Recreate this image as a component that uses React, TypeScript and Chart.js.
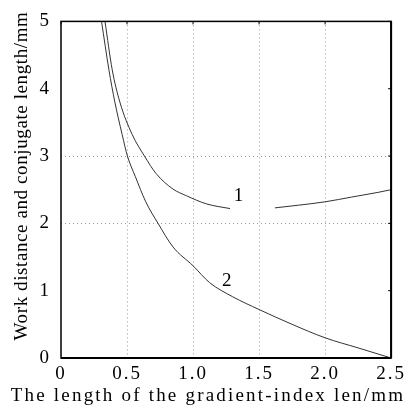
import React, { useEffect, useRef } from "react";
import { Chart, registerables } from "chart.js";

Chart.register(...registerables);

const curve1LeftX = [0.333, 0.388, 0.446, 0.539, 0.632, 0.72, 0.848, 0.95, 1.1, 1.19, 1.28];
const curve1LeftY = [5.0, 4.28, 3.8, 3.32, 3.0, 2.74, 2.51, 2.41, 2.29, 2.25, 2.22];
const curve1RightX = [1.62, 1.8, 2.0, 2.2, 2.4, 2.5];
const curve1RightY = [2.23, 2.27, 2.32, 2.39, 2.46, 2.5];
const curve2X = [0.307, 0.363, 0.408, 0.463, 0.503, 0.562, 0.642, 0.735, 0.848, 1.0, 1.125, 1.3, 1.5, 1.75, 2.0, 2.25, 2.5];
const curve2Y = [5.0, 4.28, 3.8, 3.32, 3.0, 2.7, 2.32, 2.0, 1.65, 1.37, 1.12, 0.91, 0.72, 0.5, 0.3, 0.15, 0.0];

const curveLabels = ["1", "2"];
const curveLabelX = [1.345, 1.255];
const curveLabelY = [2.4, 1.15];

const xTickLabels = ["0", "0.5", "1.0", "1.5", "2.0", "2.5"];
const yGridValues = [2, 3];

const xTitle = "The length of the gradient-index len/mm";
const yTitle = "Work distance and conjugate length/mm";

const FONT = "'Liberation Serif', 'Times New Roman', serif";

const pts = (xs: number[], ys: number[]) => xs.map((x, i) => ({ x, y: ys[i] }));

const spacingPlugin = {
  id: "spacing",
  beforeLayout(chart: any) {
    chart.ctx.letterSpacing = "2px";
  },
  beforeDraw(chart: any) {
    chart.ctx.letterSpacing = "2px";
  },
};

const framePlugin = {
  id: "frame",
  afterDatasetsDraw(chart: any) {
    const { ctx, chartArea, scales } = chart;
    const { left, right, top, bottom } = chartArea;
    const xs = scales.x;
    const ys = scales.y;
    ctx.save();
    ctx.strokeStyle = "#000";
    ctx.lineWidth = 1.5;
    ctx.strokeRect(left, top, right - left, bottom - top);
    ctx.lineWidth = 2;
    ctx.beginPath();
    ctx.moveTo(right, top);
    ctx.lineTo(right, bottom);
    ctx.moveTo(left, bottom);
    ctx.lineTo(right, bottom);
    ctx.stroke();
    ctx.lineWidth = 1;
    xs.ticks.forEach((t: any) => {
      const px = xs.getPixelForValue(t.value);
      ctx.beginPath();
      ctx.moveTo(px, top);
      ctx.lineTo(px, top + 3);
      ctx.stroke();
    });
    ys.ticks.forEach((t: any) => {
      const py = ys.getPixelForValue(t.value);
      ctx.beginPath();
      ctx.moveTo(right, py);
      ctx.lineTo(right - 3, py);
      ctx.stroke();
    });
    ctx.fillStyle = "#000";
    ctx.font = `19px ${FONT}`;
    ctx.textAlign = "center";
    ctx.textBaseline = "middle";
    ctx.letterSpacing = "0px";
    curveLabels.forEach((l, i) => {
      ctx.fillText(l, xs.getPixelForValue(curveLabelX[i]), ys.getPixelForValue(curveLabelY[i]));
    });
    ctx.letterSpacing = "2.2px";
    ctx.fillText(xTitle, 208, 396);
    ctx.translate(22, 176);
    ctx.rotate(-Math.PI / 2);
    ctx.letterSpacing = "0.6px";
    ctx.fillText(yTitle, 0, 0);
    ctx.restore();
  },
};

export default function App() {
  const ref = useRef<HTMLCanvasElement | null>(null);
  useEffect(() => {
    document.body.style.margin = "0";
    if (!ref.current) return;
    const lineStyle = {
      borderColor: "#333",
      borderWidth: 1,
      pointRadius: 0,
      fill: false,
      cubicInterpolationMode: "monotone" as const,
    };
    const chart = new Chart(ref.current, {
      type: "line",
      data: {
        datasets: [
          { label: "1a", data: pts(curve1LeftX, curve1LeftY), ...lineStyle },
          { label: "1b", data: pts(curve1RightX, curve1RightY), ...lineStyle },
          { label: "2", data: pts(curve2X, curve2Y), ...lineStyle },
        ],
      },
      options: {
        animation: false,
        responsive: false,
        maintainAspectRatio: false,
        layout: { padding: { top: 10, right: 19, left: 0, bottom: 0 } },
        plugins: { legend: { display: false }, tooltip: { enabled: false } },
        scales: {
          x: {
            type: "linear",
            min: 0,
            max: 2.5,
            border: { display: false, dash: [1, 3] },
            afterFit: (s: any) => {
              s.height = 52;
            },
            grid: {
              drawTicks: false,
              color: (c: any) =>
                c.tick && c.tick.value > 0 && c.tick.value < 2.5 ? "#999" : "rgba(0,0,0,0)",
              lineWidth: 1,
            },
            ticks: {
              stepSize: 0.5,
              padding: 5,
              color: "#000",
              font: { family: FONT, size: 19 },
              maxRotation: 0,
              callback: (_v: any, i: number) => xTickLabels[i],
            },
          },
          y: {
            type: "linear",
            min: 0,
            max: 5,
            border: { display: false, dash: [1, 3] },
            afterFit: (s: any) => {
              s.width = 61;
            },
            grid: {
              drawTicks: false,
              color: (c: any) =>
                c.tick && yGridValues.includes(c.tick.value) ? "#999" : "rgba(0,0,0,0)",
              lineWidth: 1,
            },
            ticks: {
              stepSize: 1,
              padding: 10,
              color: "#000",
              font: { family: FONT, size: 19 },
            },
          },
        },
      } as any,
      plugins: [spacingPlugin, framePlugin],
    });
    return () => chart.destroy();
  }, []);
  return (
    <div style={{ width: 411, height: 410, background: "#fff" }}>
      <canvas ref={ref} width={411} height={410} style={{ display: "block" }} />
    </div>
  );
}
